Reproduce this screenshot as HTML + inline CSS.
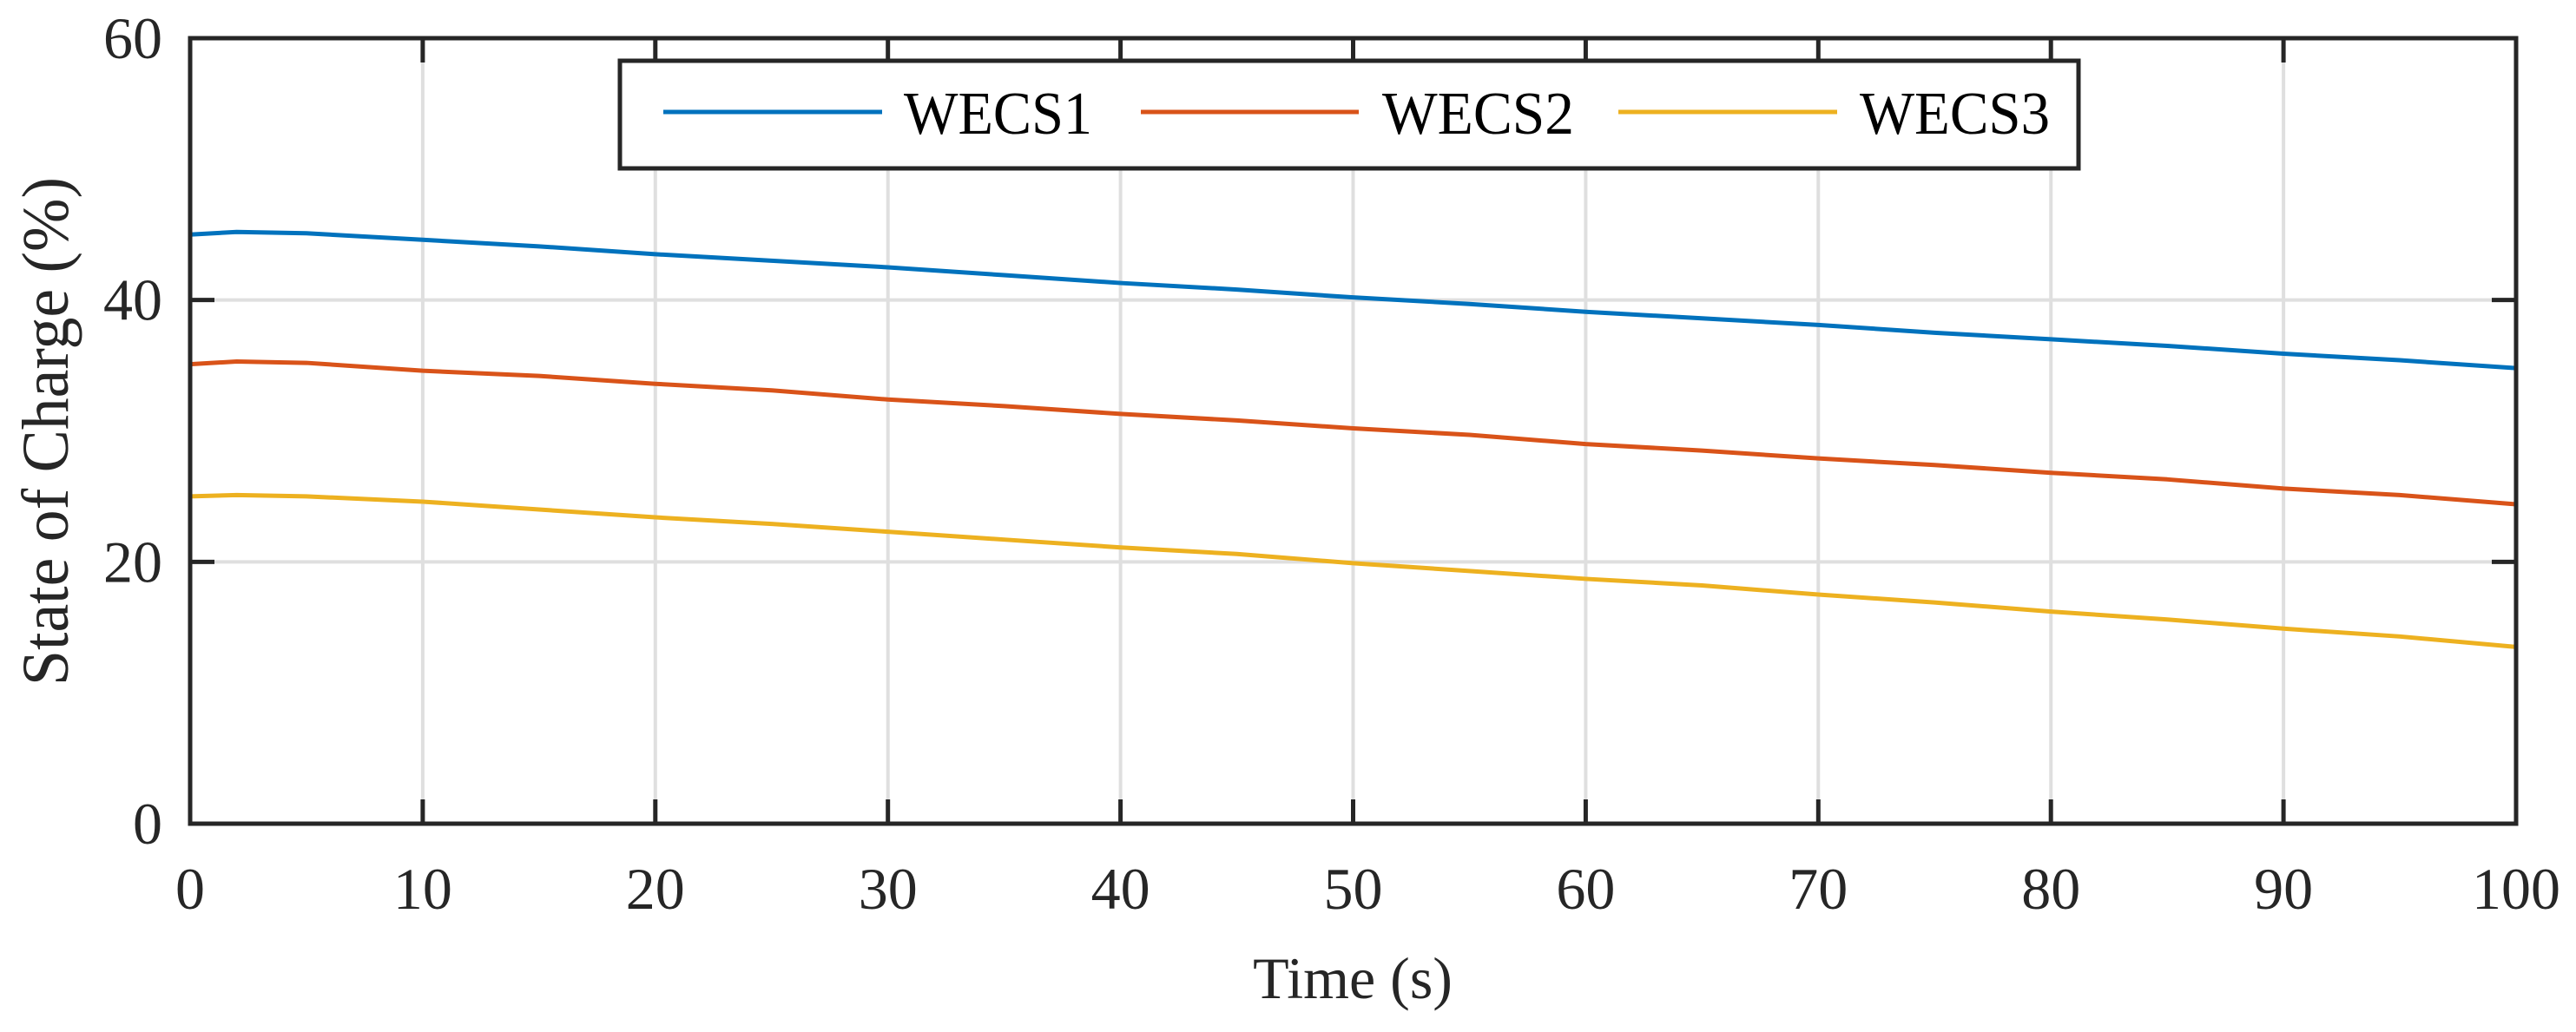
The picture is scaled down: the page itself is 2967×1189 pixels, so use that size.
<!DOCTYPE html>
<html><head><meta charset="utf-8"><style>
html,body{margin:0;padding:0;background:#fff;}
svg{display:block;font-family:"Liberation Serif",serif;}
</style></head><body>
<svg id="chart" width="2967" height="1189" viewBox="0 0 2967 1189" xmlns="http://www.w3.org/2000/svg">
<g id="grid"></g>
<g id="series"></g>
<g id="axes"></g>
<text x="1558" y="1150" font-size="68" text-anchor="middle" fill="#262626">Time (s)</text>
<text transform="translate(78,497) rotate(-90)" font-size="76" text-anchor="middle" textLength="586" lengthAdjust="spacingAndGlyphs" fill="#262626">State of Charge (%)</text>
<g>
<rect x="714" y="70" width="1680" height="124" fill="#fff" stroke="#262626" stroke-width="5"/>
<line x1="764" y1="129" x2="1016" y2="129" stroke="#0072BD" stroke-width="5"/>
<text x="1041" y="154" font-size="70" textLength="217" lengthAdjust="spacingAndGlyphs" fill="#000">WECS1</text>
<line x1="1314" y1="129" x2="1565" y2="129" stroke="#D95319" stroke-width="5"/>
<text x="1592" y="154" font-size="70" textLength="221" lengthAdjust="spacingAndGlyphs" fill="#000">WECS2</text>
<line x1="1864" y1="129" x2="2116" y2="129" stroke="#EDB120" stroke-width="5"/>
<text x="2142" y="154" font-size="70" textLength="219" lengthAdjust="spacingAndGlyphs" fill="#000">WECS3</text>
</g>
</svg>
<script>
const times = [0, 2, 5, 10, 15, 20, 25, 30, 35, 40, 45, 50, 55, 60, 65, 70, 75, 80, 85, 90, 95, 100];
const wecs1 = [45.0, 45.2, 45.1, 44.6, 44.1, 43.5, 43.0, 42.5, 41.9, 41.3, 40.8, 40.2, 39.7, 39.1, 38.6, 38.1, 37.5, 37.0, 36.5, 35.9, 35.4, 34.8];
const wecs2 = [35.1, 35.3, 35.2, 34.6, 34.2, 33.6, 33.1, 32.4, 31.9, 31.3, 30.8, 30.2, 29.7, 29.0, 28.5, 27.9, 27.4, 26.8, 26.3, 25.6, 25.1, 24.4];
const wecs3 = [25.0, 25.1, 25.0, 24.6, 24.0, 23.4, 22.9, 22.3, 21.7, 21.1, 20.6, 19.9, 19.3, 18.7, 18.2, 17.5, 16.9, 16.2, 15.6, 14.9, 14.3, 13.5];
const xTicks = [0,10,20,30,40,50,60,70,80,90,100];
const yTicks = [0,20,40,60];
const L=219,R=2898,T=44,B=949;
const sx=v=>L+(v-0)/(100-0)*(R-L);
const sy=v=>B-(v-0)/(60-0)*(B-T);
const NS='http://www.w3.org/2000/svg';
function mk(tag,attrs,parent){const e=document.createElementNS(NS,tag);for(const k in attrs)e.setAttribute(k,attrs[k]);parent.appendChild(e);return e;}
const grid=document.getElementById('grid'),axes=document.getElementById('axes'),ser=document.getElementById('series');
xTicks.forEach(t=>{
  if(t>0&&t<100){const g=mk('line',{x1:sx(t),x2:sx(t),y1:T,y2:B,stroke:'#dfdfdf','stroke-width':4},grid);
  
  
  const a=mk('line',{x1:sx(t),x2:sx(t),y1:B,y2:B-28,stroke:'#262626','stroke-width':5},axes);
  
  
  const b=mk('line',{x1:sx(t),x2:sx(t),y1:T,y2:T+28,stroke:'#262626','stroke-width':5},axes);
  
  }
  const tx=mk('text',{x:sx(t),y:1047,'font-size':68,'text-anchor':'middle',fill:'#262626'},axes);
  tx.textContent=t;
  
  
});
yTicks.forEach(t=>{
  if(t>0&&t<60){const g=mk('line',{x1:L,x2:R,y1:sy(t),y2:sy(t),stroke:'#dfdfdf','stroke-width':4},grid);
  
  
  const a=mk('line',{x1:L,x2:L+28,y1:sy(t),y2:sy(t),stroke:'#262626','stroke-width':5},axes);
  
  
  const b=mk('line',{x1:R,x2:R-28,y1:sy(t),y2:sy(t),stroke:'#262626','stroke-width':5},axes);
  
  }
  const tx=mk('text',{x:187,y:sy(t)+23,'font-size':68,'text-anchor':'end',fill:'#262626'},axes);
  tx.textContent=t;
  
  
});
const fr=mk('rect',{x:L,y:T,width:R-L,height:B-T,fill:'none',stroke:'#262626','stroke-width':5},axes);


[[wecs1,'#0072BD','line-wecs1'],[wecs2,'#D95319','line-wecs2'],[wecs3,'#EDB120','line-wecs3']].forEach(([d,c,n])=>{
  const p=mk('polyline',{points:times.map((t,i)=>sx(t)+','+sy(d[i])).join(' '),fill:'none',stroke:c,'stroke-width':5,'stroke-linejoin':'round'},ser);
  
  
});
</script>
</body></html>
